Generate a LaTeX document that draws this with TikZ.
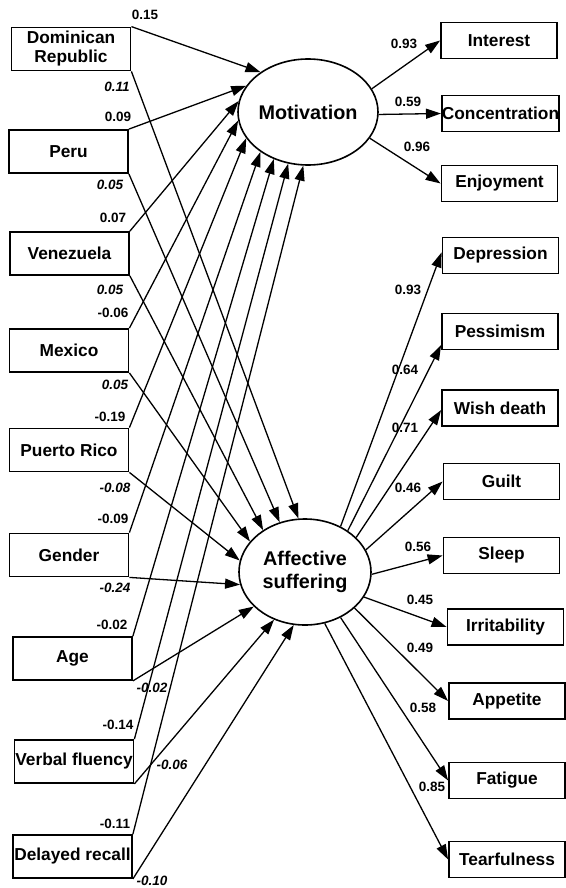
\documentclass[tikz,border=0pt]{standalone}
\usepackage{fontspec}
\setmainfont{Liberation Sans}
\usetikzlibrary{arrows.meta,shapes.geometric}
\begin{document}
\begin{tikzpicture}[x=1pt,y=-1pt,
  lbox/.style={draw,line width=1.8pt,rectangle,minimum width=119pt,minimum height=43pt,inner sep=0pt,font=\fontsize{17.3}{19}\selectfont\bfseries,align=center},
  rbox/.style={draw,line width=1.8pt,rectangle,minimum width=116pt,minimum height=36pt,inner sep=0pt,font=\fontsize{17.3}{19}\selectfont\bfseries,align=center},
  lat/.style={draw,ellipse,line width=1.6pt,minimum width=132pt,minimum height=106pt,inner sep=0pt,font=\fontsize{19.8}{23}\selectfont\bfseries,align=center},
  arr/.style={line width=1.3pt,-{Triangle[length=15pt,width=10pt]}},
  num/.style={font=\fontsize{13.5}{15}\selectfont\bfseries,inner sep=0pt},
  inum/.style={font=\fontsize{13.5}{15}\selectfont\bfseries\itshape,inner sep=0pt}]
\useasboundingbox[fill=white] (0,0) rectangle (565,888);
% latent variables
\node[lat] (mot) at (308,112) {Motivation};
\node[lat] (aff) at (305,572) {Affective\\suffering};
% left boxes
\node[lbox] (dr) at (71,49) {Dominican\\Republic};
\node[lbox] (pe) at (68.5,151.5) {Peru};
\node[lbox] (ve) at (69.5,253.5) {Venezuela};
\node[lbox] (mx) at (69,350.5) {Mexico};
\node[lbox] (pr) at (69,450) {Puerto Rico};
\node[lbox] (ge) at (69,555) {Gender};
\node[lbox] (ag) at (72.5,658.5) {Age};
\node[lbox] (vf) at (74,761.5) {Verbal fluency};
\node[lbox] (dl) at (72.5,856.5) {Delayed recall};
% right boxes
\node[rbox] (in) at (499,40.5) {Interest};
\node[rbox] (co) at (500.5,113.5) {Concentration};
\node[rbox] (en) at (499.5,183.5) {Enjoyment};
\node[rbox] (de) at (500.5,255.5) {Depression};
\node[rbox] (ps) at (500,331.5) {Pessimism};
\node[rbox] (wd) at (500,408) {Wish death};
\node[rbox] (gu) at (501.5,481.5) {Guilt};
\node[rbox] (sl) at (501.5,555.5) {Sleep};
\node[rbox] (ir) at (505.5,627) {Irritability};
\node[rbox] (ap) at (507,701) {Appetite};
\node[rbox] (fa) at (507,780.5) {Fatigue};
\node[rbox] (te) at (507,859.5) {Tearfulness};
% paths to Motivation
\draw[arr] (dr.north east) -- (mot.140);
\draw[arr] (pe.north east) -- (mot.157);
\draw[arr] (ve.north east) -- (mot.171);
\draw[arr] (mx.north east) -- (mot.187);
\draw[arr] (pr.north east) -- (mot.203);
\draw[arr] (ge.north east) -- (mot.220);
\draw[arr] (ag.north east) -- (mot.234);
\draw[arr] (vf.north east) -- (mot.249);
\draw[arr] (dl.north east) -- (mot.265);
% paths to Affective suffering
\draw[arr] (dr.south east) -- (aff.97);
\draw[arr] (pe.south east) -- (aff.117);
\draw[arr] (ve.south east) -- (aff.135);
\draw[arr] (mx.south east) -- (aff.151);
\draw[arr] (pr.south east) -- (aff.170);
\draw[arr] (ge.south east) -- (aff.191);
\draw[arr] (ag.south east) -- (aff.214);
\draw[arr] (vf.south east) -- (aff.237);
\draw[arr] (dl.south east) -- (aff.258);
% measurement Motivation
\draw[arr] (mot.20) -- (in.west);
\draw[arr] (mot.-2) -- (co.west);
\draw[arr] (mot.-23) -- (en.west);
% measurement Affective
\draw[arr] (aff.52) -- (de.177);
\draw[arr] (aff.44) -- (ps.193);
\draw[arr] (aff.34) -- (wd.182);
\draw[arr] (aff.20) -- (gu.west);
\draw[arr] (aff.-2) -- (sl.west);
\draw[arr] (aff.-23) -- (ir.west);
\draw[arr] (aff.-36) -- (ap.west);
\draw[arr] (aff.-52) -- (fa.west);
\draw[arr] (aff.-69) -- (te.west);
% left labels
\node[num] (n1) at (145,15) {0.15};
\node[inum] (i1) at (117,87) {0.11};
\node[num] (n2) at (118,117) {0.09};
\node[inum] (i2) at (110,185) {0.05};
\node[num] (n3) at (113,218) {0.07};
\node[inum] (i3) at (110,290) {0.05};
\node[num] (n4) at (113,313) {-0.06};
\node[inum] (i4) at (115,385) {0.05};
\node[num] (n5) at (110,417) {-0.19};
\node[inum] (i5) at (115,488) {-0.08};
\node[num] (n6) at (113,519) {-0.09};
\node[inum] (i6) at (115,588) {-0.24};
\node[num] (n7) at (112,625) {-0.02};
\node[inum] (i7) at (152,688) {-0.02};
\node[num] (n8) at (118,725) {-0.14};
\node[inum] (i8) at (172,765) {-0.06};
\node[num] (n9) at (115,824) {-0.11};
\node[inum] (i9) at (152,881) {-0.10};
% right labels
\node[num] (r1) at (404,44) {0.93};
\node[num] (r2) at (408,102) {0.59};
\node[num] (r3) at (417,147) {0.96};
\node[num] (r4) at (408,290) {0.93};
\node[num] (r5) at (405,370) {0.64};
\node[num] (r6) at (405,428) {0.71};
\node[num] (r7) at (408,488) {0.46};
\node[num] (r8) at (418,547) {0.56};
\node[num] (r9) at (420,600) {0.45};
\node[num] (r10) at (420,648) {0.49};
\node[num] (r11) at (423,708) {0.58};
\node[num] (r12) at (432,787) {0.85};
\end{tikzpicture}
\end{document}
